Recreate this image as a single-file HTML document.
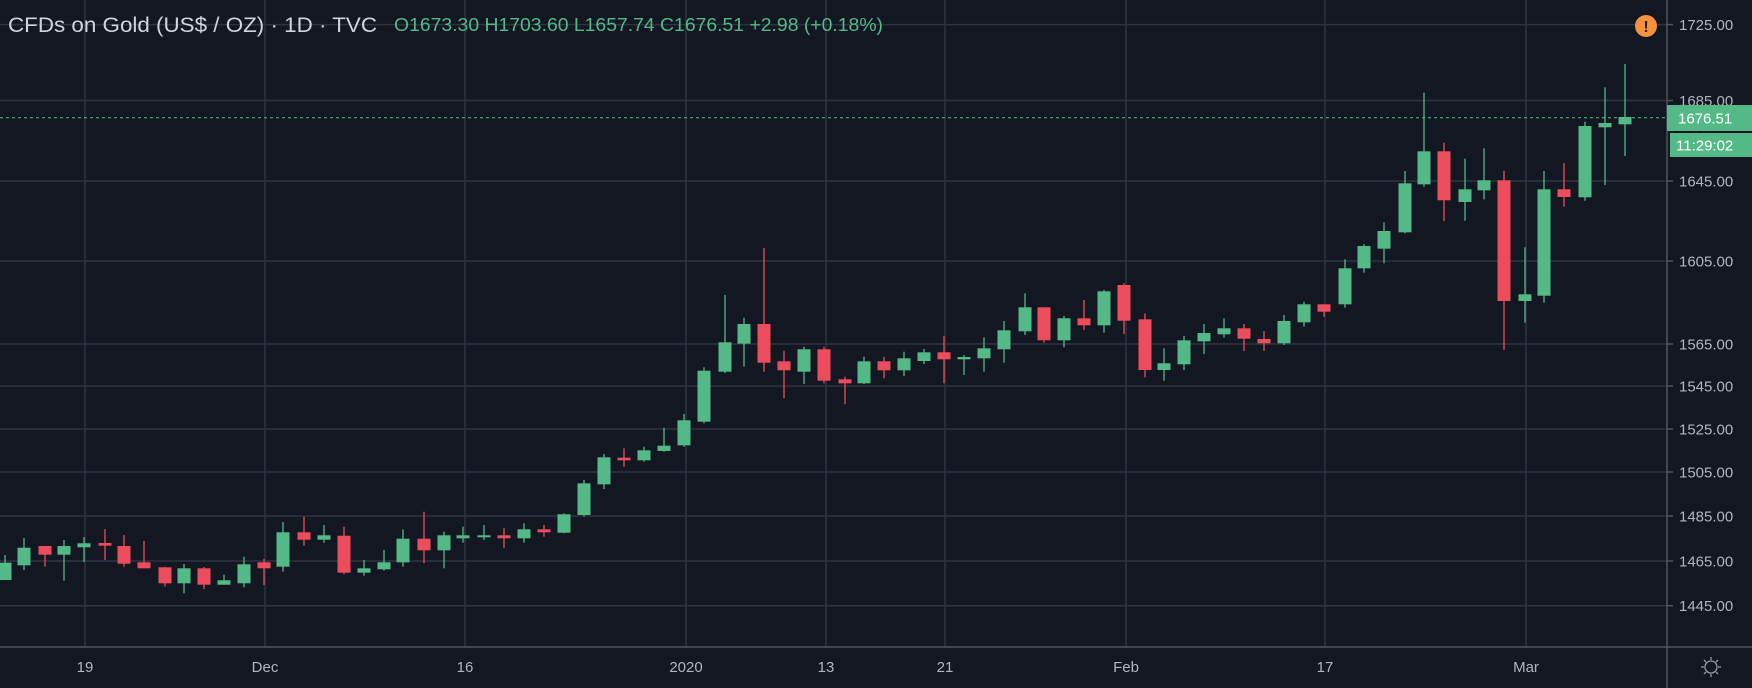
<!DOCTYPE html>
<html><head><meta charset="utf-8"><style>
html,body{margin:0;padding:0;background:#131722;}
svg{display:block;}
text{font-family:"Liberation Sans",sans-serif;}
</style></head><body>
<svg id="s" width="1752" height="688" viewBox="0 0 1752 688" xmlns="http://www.w3.org/2000/svg">
<rect width="1752" height="688" fill="#131722"/>
<g id="grid" stroke="#2e333f" stroke-width="1.5"></g>
<g id="c"></g>
<line x1="0" y1="117.7" x2="1667" y2="117.7" stroke="#53b987" stroke-width="1" stroke-dasharray="3,3"/>
<line x1="1667" y1="0" x2="1667" y2="688" stroke="#50535e" stroke-width="1.5"/>
<line x1="0" y1="647" x2="1752" y2="647" stroke="#50535e" stroke-width="1.5"/>
<g id="yl" fill="#b2b5be" font-size="15"></g>
<g id="xl" fill="#b2b5be" font-size="15" text-anchor="middle"></g>
<rect x="1667" y="105" width="85" height="26" fill="#53b987"/>
<text x="1678" y="123.5" fill="#fff" font-size="15">1676.51</text>
<rect x="1670" y="133" width="82" height="24" fill="#53b987"/>
<text x="1676" y="150.5" fill="#fff" font-size="15">11:29:02</text>
<circle cx="1646" cy="26" r="11" fill="#f7913d"/>
<text x="1646" y="32" fill="#222" font-size="16" font-weight="bold" text-anchor="middle">!</text>
<g transform="translate(1711,667)" stroke="#9598a1" stroke-width="1.3" fill="none">
<circle r="6"/><line x1="0" y1="-10" x2="0" y2="-7"/><line x1="0" y1="7" x2="0" y2="10"/><line x1="-10" y1="0" x2="-7" y2="0"/><line x1="7" y1="0" x2="10" y2="0"/>
<line x1="-7" y1="-7" x2="-5" y2="-5"/><line x1="5" y1="5" x2="7" y2="7"/><line x1="-7" y1="7" x2="-5" y2="5"/><line x1="5" y1="-5" x2="7" y2="-7"/>
</g>
<text x="8" y="32" fill="#d1d4dc" font-size="21" textLength="369" lengthAdjust="spacingAndGlyphs">CFDs on Gold (US$ / OZ) · 1D · TVC</text>
<text x="394" y="31" fill="#53b987" font-size="18" textLength="489" lengthAdjust="spacingAndGlyphs">O1673.30  H1703.60  L1657.74  C1676.51  +2.98 (+0.18%)</text>
</svg>
<script>
var NS="http://www.w3.org/2000/svg";
function el(p,t,a,txt){var e=document.createElementNS(NS,t);for(var k in a)e.setAttribute(k,a[k]);if(txt)e.textContent=txt;document.getElementById(p).appendChild(e);}
var ys=[[1725,24.6],[1685,100.5],[1645,181],[1605,261],[1565,344],[1545,386],[1525,429],[1505,472],[1485,516],[1465,561],[1445,605.7]];
ys.forEach(function(v){el("grid","line",{x1:0,y1:v[1],x2:1667,y2:v[1]});el("grid","line",{x1:1667,y1:v[1],x2:1673,y2:v[1],stroke:"#50535e"});el("yl","text",{x:1679,y:v[1]+5.5},v[0].toFixed(2));});
var xs=[[85,"19"],[265,"Dec"],[465,"16"],[686,"2020"],[826,"13"],[945,"21"],[1126,"Feb"],[1325,"17"],[1526,"Mar"]];
xs.forEach(function(v){el("grid","line",{x1:v[0],y1:0,x2:v[0],y2:647});el("xl","text",{x:v[0],y:672},v[1]);});
var d=[
[5,555,580,562.7,580,1],[24,538,570,547.7,565.3,1],[45,546,566.7,546,554.7,0],[64,540,580.7,546,554.7,1],[84,537,562,543.3,547.3,1],
[105,529,560,543,545.7,0],[124,535,566.7,546,563.7,0],[144,541,568.3,562.3,568.3,0],[165,567,586.7,567.3,583.3,0],[184,564,593.3,568.3,583.3,1],
[204,567,589,568.3,584.7,0],[224,574.7,584.7,580.3,584.7,1],[244,556.7,587.3,564.3,583.3,1],[264,559,585,562.3,568.3,0],[283,522,571.7,532.3,566.7,1],
[304,516.7,545.7,532.3,539.7,0],[324,525,542.7,535.3,539.7,1],[344,526.7,574.3,535.7,572.7,0],[364,560,575.7,568.3,572.7,1],[384,550,570.7,562.3,569.3,1],
[403,529.3,566.7,538.7,562.3,1],[424,511.7,563.3,538.7,550.3,0],[444,531.7,568.3,535.3,550.3,1],[463,526.7,542.7,535.3,538.3,1],[484,525,540,535.3,536.7,1],
[504,528,548,535.3,538.3,0],[524,523.3,542.7,529.3,538.3,1],[544,525,536.7,529.3,532.3,0],[564,513.3,533.3,514.3,532.7,1],[584,480,516.7,483.3,515,1],
[604,454,489,457.3,484.3,1],[624,448.3,466.7,457.7,460.3,0],[644,446.7,461.7,450.3,460.3,1],[664,427.7,451.7,445.7,451,1],[684,414,446.7,420.3,445.3,1],
[704,367.3,423.3,370.7,421.7,1],[725,295,373,342.3,371.7,1],[744,317.7,366.7,324,343.7,1],[764,248,371.7,324,362.7,0],[784,351,398.3,361.3,370.3,0],
[804,346.7,384,349.3,371.7,1],[824,346.7,383.3,349.3,380.7,0],[845,376.7,404.3,379.3,383.3,0],[864,356.7,384,361.3,383.3,1],[884,356.7,378.3,361.3,370.3,0],
[904,351.7,376,358.3,370.3,1],[924,349,364,352.3,361,1],[944,336,383.3,352.3,359.3,0],[964,355,375,357,359.3,1],[984,337.3,371.7,348.3,358.3,1],
[1004,321,362.7,330.3,349.3,1],[1025,293.3,335,307.3,331.3,1],[1044,307.3,342.7,307.3,340.3,0],[1064,316,347.3,318.3,340.3,1],[1084,300,330,318.3,325.3,0],
[1104,290,332.7,291.3,325.3,1],[1124,283.3,334,285,320.7,0],[1145,313.3,377.3,319.3,370,0],[1164,348.3,380.7,363.3,370,1],[1184,336,370,340.3,364.3,1],
[1204,324,354,333,341.3,1],[1224,318.3,337.7,328.3,334.3,1],[1244,324,351,328.3,338.7,0],[1264,331,351,339,343.3,0],[1284,315,345,321,343.3,1],
[1304,301.7,326.7,304.3,322.3,1],[1324,304.3,316.7,304.3,311.7,0],[1345,259.3,307.7,268.3,304.3,1],[1364,244,272.7,246,268.3,1],[1384,222.3,263.3,231,248.7,1],
[1405,171,233.3,183.3,232.3,1],[1424,92.7,186.7,151.3,184.3,1],[1444,142.7,221,151.3,200.3,0],[1465,158.7,220.7,189.3,202,1],[1484,148.3,199.3,180.3,190.3,1],
[1504,170.7,350,180.3,301,0],[1525,247.3,322.7,294.3,301,1],[1544,171,302.7,189.3,295.7,1],[1564,163.3,206.7,189.3,197,0],[1585,121.7,200.7,126,197.3,1],
[1605,87.3,185,123,127.3,1],[1625,64,156,117,124.3,1]];
d.forEach(function(c){var col=c[5]?"#53b987":"#eb4d5c";
el("c","line",{x1:c[0],y1:c[1],x2:c[0],y2:c[2],stroke:col,"stroke-width":1.3});
el("c","rect",{x:c[0]-6.5,y:c[3],width:13,height:Math.max(2,c[4]-c[3]),fill:col});});
</script>
</body></html>
